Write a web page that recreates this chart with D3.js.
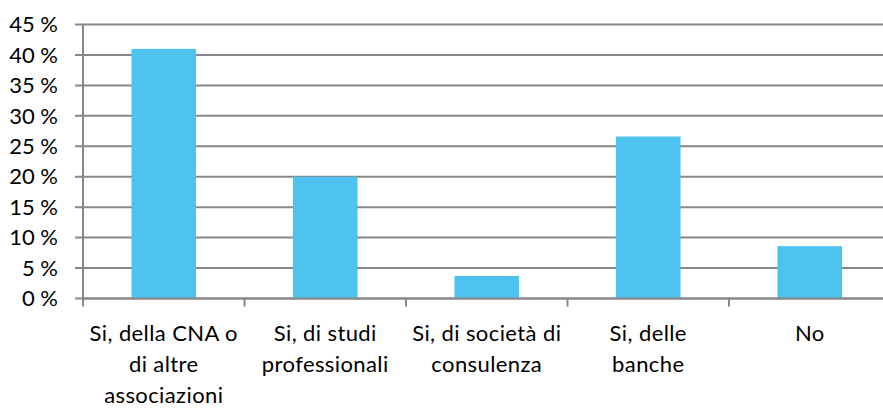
<!DOCTYPE html>
<html>
<head>
<meta charset="utf-8">
<script src="https://cdn.jsdelivr.net/npm/d3@7"></script>
<style>
  body { margin: 0; background: #fff; }
  text { font-family: Lato, "Open Sans", sans-serif; fill: #000; }
</style>
</head>
<body>
<script>
// categories (label lines) and values in %
const categories = [
  ["Si, della CNA o", "di altre", "associazioni"],
  ["Si, di studi", "professionali"],
  ["Si, di società di", "consulenza"],
  ["Si, delle", "banche"],
  ["No"]
];
const values = [41, 20, 3.7, 26.6, 8.6];
const yTicks = [0, 5, 10, 15, 20, 25, 30, 35, 40, 45];

const width = 883, height = 408;
const margin = {top: 24.5, left: 83, right: -7.5, bottom: 109.5};

const svg = d3.select("body").append("svg")
  .attr("width", width)
  .attr("height", height);

const x = d3.scaleBand()
  .domain(d3.range(values.length))
  .range([margin.left, width - margin.right])
  .paddingInner(0.6)
  .paddingOuter(0.3);

const y = d3.scaleLinear()
  .domain([0, 45])
  .range([height - margin.bottom, margin.top]);

const grey = "#878787";

// gridlines + y ticks
svg.append("g")
  .selectAll("line")
  .data(yTicks)
  .join("line")
  .attr("x1", margin.left - 8)
  .attr("x2", width - margin.right)
  .attr("y1", d => y(d))
  .attr("y2", d => y(d))
  .attr("stroke", grey)
  .attr("stroke-width", 2);

svg.append("g")
  .selectAll("text")
  .data(yTicks)
  .join("text")
  .attr("x", 58)
  .attr("y", d => y(d))
  .attr("dy", "0.35em")
  .attr("text-anchor", "end")
  .attr("font-size", 22)
  .text(d => d + " %");

// bars
svg.append("g")
  .selectAll("rect")
  .data(values)
  .join("rect")
  .attr("x", (d, i) => x(i))
  .attr("width", x.bandwidth())
  .attr("y", d => y(d))
  .attr("height", d => y(0) - y(d))
  .attr("fill", "#4fc3ef");

// y axis line
svg.append("line")
  .attr("x1", margin.left).attr("x2", margin.left)
  .attr("y1", y(45)).attr("y2", y(0) + 1)
  .attr("stroke", grey).attr("stroke-width", 2);

// x axis line + category ticks
svg.append("line")
  .attr("x1", margin.left).attr("x2", width)
  .attr("y1", y(0)).attr("y2", y(0))
  .attr("stroke", grey).attr("stroke-width", 2);

const step = x.step();
svg.append("g")
  .selectAll("line")
  .data(d3.range(values.length + 1))
  .join("line")
  .attr("x1", i => margin.left + i * step)
  .attr("x2", i => margin.left + i * step)
  .attr("y1", y(0))
  .attr("y2", y(0) + 8)
  .attr("stroke", grey)
  .attr("stroke-width", 2);

// category labels
const labels = svg.append("g")
  .selectAll("text")
  .data(categories)
  .join("text")
  .attr("x", (d, i) => x(i) + x.bandwidth() / 2)
  .attr("y", 341)
  .attr("text-anchor", "middle")
  .attr("font-size", 22)
  .attr("letter-spacing", 0.4);

labels.selectAll("tspan")
  .data(d => d)
  .join("tspan")
  .attr("x", function() { return this.parentNode.getAttribute("x"); })
  .attr("dy", (d, i) => i === 0 ? 0 : 31)
  .text(d => d);
</script>
</body>
</html>
